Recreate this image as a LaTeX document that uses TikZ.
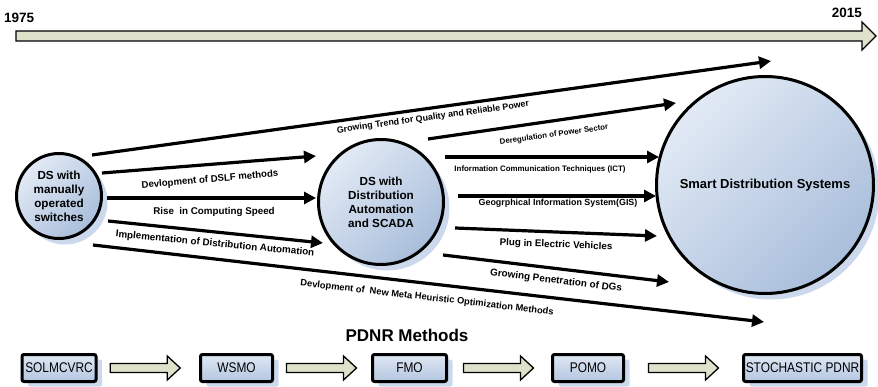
\documentclass[tikz,border=0pt]{standalone}
\usepackage{fontspec}
\setmainfont{Liberation Sans}
\newfontfamily\narrowfont[FakeStretch=0.85]{Liberation Sans}
\usetikzlibrary{arrows.meta,shadows,calc}
\definecolor{circL}{HTML}{E2EAF5}
\definecolor{circD}{HTML}{A9BEDB}
\definecolor{shadowc}{HTML}{CCD9EC}
\definecolor{boxL}{HTML}{DFE7F3}
\definecolor{boxD}{HTML}{B3C6E1}
\definecolor{arrowfill}{HTML}{DEE2CB}
\newcommand\pxsz[1]{\fontsize{#1}{#1}\selectfont}
\newcommand\blockarrow[1]{\draw[blockarr] ($(#1)+(-35,-4.5)$) -- ++(57,0) -- ++(0,-7.5) -- ++(13,12) -- ++(-13,12) -- ++(0,-7.5) -- ++(-57,0) -- cycle;}
\begin{document}
\begin{tikzpicture}[x=1pt,y=-1pt,
  circ/.style={circle, draw=black, line width=3pt, inner sep=0pt,
    top color=circL, bottom color=circD, shading angle=45,
    general shadow={fill=shadowc, shadow xshift=6pt, shadow yshift=-6pt},
    align=center, font=\bfseries\fontsize{11.7}{14}\selectfont},
  conn/.style={line width=3.2pt, -{Triangle[length=12pt,width=12pt]}},
  lbl/.style={inner sep=0pt, font=\bfseries\pxsz{#1}},
  lbl/.default=9.5,
  pbox/.style={rectangle, rounded corners=2pt, draw=black, line width=3pt,
    top color=boxL, bottom color=boxD, minimum height=27pt, inner sep=0pt,
    general shadow={fill=shadowc, shadow xshift=6pt, shadow yshift=-5pt},
    font=\narrowfont\pxsz{14}},
  blockarr/.style={draw=black, line width=1.3pt, fill=arrowfill, line join=miter},
  yearlbl/.style={inner sep=0pt, font=\bfseries\pxsz{13.5}}]
\useasboundingbox (0,0) rectangle (878,387);

% timeline
\draw[blockarr] (16,31) -- (862,31) -- (862,22) -- (876,36) -- (862,50) -- (862,41) -- (16,41) -- cycle;
\node[yearlbl, anchor=west] (y1975) at (4,17.5) {1975};
\node[yearlbl, anchor=east] (y2015) at (862,13) {2015};

% circles
\node[circ, minimum size=85pt] (L) at (59,196) {DS with\\manually\\operated\\switches};
\node[circ, minimum size=125pt] (M) at (381,202) {DS with\\Distribution\\Automation\\and SCADA};
\node[circ, minimum size=217pt, font=\bfseries\pxsz{13}] (S) at (765,185) {Smart Distribution Systems};

% connector end points
\coordinate (a1s) at (92,155);  \coordinate (a1e) at (771,61);
\coordinate (a2s) at (102,173); \coordinate (a2e) at (316,156);
\coordinate (a3s) at (107,198); \coordinate (a3e) at (316,198);
\coordinate (a4s) at (108,221); \coordinate (a4e) at (323,243);
\coordinate (a5s) at (93,245);  \coordinate (a5e) at (764,322);
\coordinate (a6s) at (428,139); \coordinate (a6e) at (676,103);
\coordinate (a7s) at (445,157); \coordinate (a7e) at (659,157);
\coordinate (a8s) at (458,196); \coordinate (a8e) at (656,196);
\coordinate (a9s) at (455,228); \coordinate (a9e) at (657,236);
\coordinate (a10s) at (443,255); \coordinate (a10e) at (669,282);

\foreach \i in {1,...,10} {\draw[conn] (a\i s) -- (a\i e);}

% labels
\node[lbl=8.9, rotate=7.9] (t1) at (433,117.5) {Growing Trend for Quality and Reliable Power};
\node[lbl=9.6, rotate=5] (t2) at (210,180) {Devlopment of DSLF methods};
\node[lbl=9.8] (t3) at (214,212) {Rise\ \ in Computing Speed};
\node[lbl=9.8, rotate=-5.5] (t4) at (215,244) {Implementation of Distribution Automation};
\node[lbl=9.3, rotate=-6.6] (t5) at (427,298) {Devlopment of\ \ New Meta Heuristic Optimization Methods};
\node[lbl=7.8, rotate=8] (t6) at (554,135) {Deregulation of Power Sector};
\node[lbl=7.9] (t7) at (540,169) {Information Communication Techniques (ICT)};
\node[lbl=8.9] (t8) at (558,203) {Geogrphical Information System(GIS)};
\node[lbl=9.8, rotate=-2.3] (t9) at (556,245) {Plug in Electric Vehicles};
\node[lbl=9.9, rotate=-7] (t10) at (556,281) {Growing Penetration of DGs};

% PDNR methods
\node[inner sep=0pt, font=\bfseries\pxsz{17}] (pdnr) at (407,335) {PDNR Methods};
\node[pbox, minimum width=74pt] (B1) at (59,368) {SOLMCVRC};
\node[pbox, minimum width=72pt] (B2) at (236.5,368) {WSMO};
\node[pbox, minimum width=74pt] (B3) at (409.5,368) {FMO};
\node[pbox, minimum width=71pt] (B4) at (588,368) {POMO};
\node[pbox, minimum width=118pt] (B5) at (802.5,368) {STOCHASTIC PDNR};

\coordinate (m12) at ($(B1.east)!0.5!(B2.west)+(-3,0)$);
\coordinate (m23) at ($(B2.east)!0.5!(B3.west)+(-1,0)$);
\coordinate (m34) at ($(B3.east)!0.5!(B4.west)+(-1,0)$);
\coordinate (m45) at ($(B4.east)!0.5!(B5.west)$);
\blockarrow{m12}
\blockarrow{m23}
\blockarrow{m34}
\blockarrow{m45}
\end{tikzpicture}
\end{document}
